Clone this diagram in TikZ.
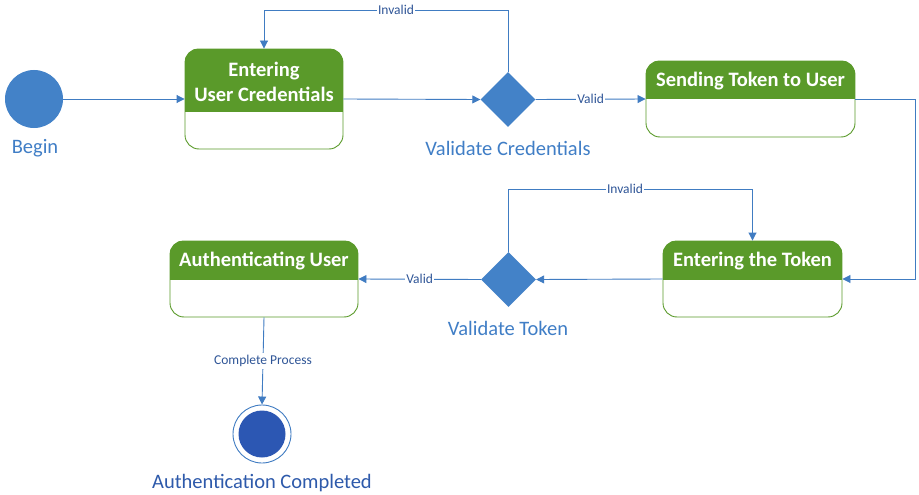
\documentclass[tikz,border=0pt]{standalone}
\usepackage{fontspec}
\setmainfont{Carlito}
\usetikzlibrary{arrows.meta,shapes.geometric,calc}
\definecolor{lineblue}{RGB}{64,124,194}
\definecolor{circblue}{RGB}{67,130,200}
\definecolor{capblue}{RGB}{64,126,198}
\definecolor{labblue}{RGB}{47,85,151}
\definecolor{endblue}{RGB}{44,87,179}
\definecolor{endcap}{RGB}{46,90,171}
\definecolor{boxgreen}{RGB}{90,154,42}
\tikzset{
  conn/.style={draw=lineblue, line width=0.9pt, -{Triangle[length=8pt,width=8pt]}},
  lab/.style={fill=white, inner sep=1pt, text=labblue, font=\fontsize{13.5}{15}\selectfont},
  statebox/.style={draw=boxgreen, fill=white, line width=0.9pt, rounded corners=14pt, inner sep=0pt},
  titletext/.style={text=white, font=\bfseries\fontsize{20.5}{25}\selectfont, align=center},
  captext/.style={text=capblue, font=\fontsize{20.5}{24}\selectfont},
  decision/.style={diamond, aspect=1, fill=circblue, minimum width=55pt, minimum height=55pt, inner sep=0pt}
}
\newcommand\boxheader[2]{%
  \begin{scope}
    \clip[rounded corners=14pt] (#1.south west) rectangle (#1.north east);
    \fill[boxgreen] (#1.north west) rectangle (#1.east |- #2);
  \end{scope}}
\begin{document}
\begin{tikzpicture}[x=1pt,y=-1pt]
\useasboundingbox[fill=white] (0,0) rectangle (919,495);

% start
\node[circle, fill=circblue, minimum size=58pt, inner sep=0pt] (start) at (34,99) {};
\node[captext] (startcap) at (35,148) {Begin};

% box 1
\node[statebox, minimum width=158pt, minimum height=100pt] (b1) at (264,99) {};
\coordinate (s1) at (264,112);
\boxheader{b1}{s1}
\node[titletext] (t1) at (264,81.5) {Entering\\User Credentials};

% decision 1
\node[decision] (d1) at (508,99.5) {};
\node[captext] (d1cap) at (508,148) {Validate Credentials};

% box 2
\node[statebox, minimum width=209pt, minimum height=76pt] (b2) at (750.5,99) {};
\coordinate (s2) at (750,99.5);
\boxheader{b2}{s2}
\node[titletext] (t2) at (750.5,81.5) {Sending Token to User};

% box 3
\node[statebox, minimum width=179pt, minimum height=76pt] (b3) at (752.5,279) {};
\coordinate (s3) at (752,279.5);
\boxheader{b3}{s3}
\node[titletext] (t3) at (752.5,261.5) {Entering the Token};

% decision 2
\node[decision] (d2) at (508.5,279.5) {};
\node[captext] (d2cap) at (508,328) {Validate Token};

% box 4
\node[statebox, minimum width=188pt, minimum height=76pt] (b4) at (264,279) {};
\coordinate (s4) at (264,279.5);
\boxheader{b4}{s4}
\node[titletext] (t4) at (264,261.5) {Authenticating User};

% end
\node[circle, draw=lineblue, line width=0.9pt, fill=white, minimum size=58pt, inner sep=0pt] (end) at (262,434) {};
\node[circle, fill=endblue, minimum size=47pt, inner sep=0pt] (endin) at (end.center) {};
\node[text=endcap, font=\fontsize{20.5}{24}\selectfont] (endcap) at (262,483) {Authentication Completed};

% connectors
\draw[conn] (start.east) -- (b1.west);
\draw[conn] (b1.east) -- (d1.west);
\coordinate (l1) at (264,10);
\draw[conn] (d1.north) |- (l1) -- (b1.north);
\node[lab] (inv1) at (396,10) {Invalid};
\draw[conn] (d1.east) -- node[lab] (val1) {Valid} (b2.west);
\coordinate (r1) at (915,99);
\draw[conn] (b2.east) -- (r1) |- (b3.east);
\draw[conn] (b3.west) -- (d2.east);
\coordinate (l2) at (752.5,189);
\draw[conn] (d2.north) |- (l2) -- (b3.north);
\node[lab] (inv2) at (625,189) {Invalid};
\draw[conn] (d2.west) -- node[lab] (val2) {Valid} (b4.east);
\draw[conn] (b4.south) -- node[lab, inner sep=2pt] (cp) {Complete Process} (end.north);
\end{tikzpicture}
\end{document}
